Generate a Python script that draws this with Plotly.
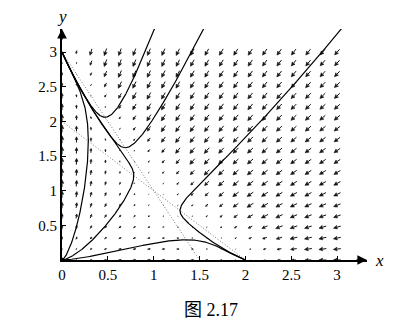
import numpy as np
import plotly.graph_objects as go

# ---- model (competition system read from the nullclines in the picture) ----
# x' = x (GROWTH[0] - COMP_X[0] x - COMP_X[1] y)
# y' = y (GROWTH[1] - COMP_Y[0] x - COMP_Y[1] y)
GROWTH = [2.0, 3.0]
COMP_X = [1.0, 1.0]
COMP_Y = [2.0, 1.0]

# direction-field grid
GRID_N = 20
GRID_MAX = 3.0

# points read on each drawn trajectory (turning points)
TRAJ_X = [0.287, 0.778, 1.41, 1.287, 0.469, 0.687]
TRAJ_Y = [1.72, 1.274, 0.29, 0.722, 2.06, 1.62]

X_TICKS = [0, 0.5, 1, 1.5, 2, 2.5, 3]
X_TICK_LABELS = ["0", "0.5", "1", "1.5", "2", "2.5", "3"]
Y_TICKS = [0.5, 1, 1.5, 2, 2.5, 3]
Y_TICK_LABELS = ["0.5", "1", "1.5", "2", "2.5", "3"]
CAPTION = "图 2.17"

# ---- geometry ----
W, H = 416, 331
ML, MR, MT, MB = 62, 49, 29, 71
XR = [0.0, 3.326]
YR = [0.0, 3.333]
SX = (W - ML - MR) / (XR[1] - XR[0])
SY = (H - MT - MB) / (YR[1] - YR[0])


def field(p):
    x, y = p
    return np.array([x * (GROWTH[0] - COMP_X[0] * x - COMP_X[1] * y),
                     y * (GROWTH[1] - COMP_Y[0] * x - COMP_Y[1] * y)])


# ---- direction field arrows ----
LMAX, KLEN = 7.5, 3.5
g = np.linspace(0, GRID_MAX, GRID_N)
sx_, sy_, hx_, hy_ = [], [], [], []
speeds = []
for xv in g:
    for yv in g:
        u, v = field((xv, yv))
        m = np.hypot(u, v)
        speeds.append((m, xv, yv))
        if m < 1e-9:
            continue
        pu, pv = u * SX, v * SY
        pn = np.hypot(pu, pv)
        du, dv = pu / pn, pv / pn
        L = min(LMAX, KLEN * m)
        h = 0.5 * L
        hw = 0.48 * h
        cx, cy = xv * SX, yv * SY
        tx, ty = cx - du * L / 2, cy - dv * L / 2
        ex, ey = cx + du * L / 2, cy + dv * L / 2
        bx, by = ex - du * h * 0.8, ey - dv * h * 0.8
        sx_ += [tx / SX, bx / SX, None]
        sy_ += [ty / SY, by / SY, None]
        b2x, b2y = ex - du * h, ey - dv * h
        hx_ += [ex / SX, (b2x - dv * hw) / SX, (bx) / SX, (b2x + dv * hw) / SX, ex / SX, None]
        hy_ += [ey / SY, (b2y + du * hw) / SY, (by) / SY, (b2y - du * hw) / SY, ey / SY, None]

fig = go.Figure()
fig.add_trace(go.Scatter(x=sx_, y=sy_, mode="lines",
                         line=dict(color="#111", width=1), hoverinfo="skip"))
fig.add_trace(go.Scatter(x=hx_, y=hy_, mode="lines", fill="toself",
                         fillcolor="#111", line=dict(color="#111", width=0.6),
                         hoverinfo="skip"))

# blob at the slowest grid point (near the saddle)
mmin = min(speeds)
fig.add_trace(go.Scatter(x=[mmin[1]], y=[mmin[2]], mode="markers",
                         marker=dict(symbol="diamond-tall", size=7, angle=-35,
                                     color="#111"), hoverinfo="skip"))

# ---- nullclines (dotted) ----
for a, b, c in [(GROWTH[0], COMP_X[0], COMP_X[1]), (GROWTH[1], COMP_Y[0], COMP_Y[1])]:
    fig.add_trace(go.Scatter(x=[0, a / b], y=[a / c, 0], mode="lines",
                             line=dict(color="#777", width=1, dash="1px,2px"),
                             hoverinfo="skip"))


# ---- trajectories ----
def integrate(p0, sign):
    p = np.array(p0, float)
    pts = [p.copy()]
    ds, dtmax = 0.004, 0.01
    for _ in range(40000):
        sp = np.hypot(*field(p))
        if sp < 1e-7:
            break
        hstep = sign * min(dtmax, ds / sp)
        k1 = field(p)
        k2 = field(p + hstep / 2 * k1)
        k3 = field(p + hstep / 2 * k2)
        k4 = field(p + hstep * k3)
        p = p + hstep / 6 * (k1 + 2 * k2 + 2 * k3 + k4)
        pts.append(p.copy())
        if p[0] > XR[1] + 0.1 or p[1] > YR[1] + 0.1:
            break
        if np.hypot(*p) < 1e-3:
            pts.append(np.array([0.0, 0.0]))
            break
    return np.array(pts)


for x0, y0 in zip(TRAJ_X, TRAJ_Y):
    back = integrate((x0, y0), -1)[::-1]
    fwd = integrate((x0, y0), 1)
    pts = np.vstack([back, fwd[1:]])
    fig.add_trace(go.Scatter(x=pts[:, 0], y=pts[:, 1], mode="lines",
                             line=dict(color="black", width=1.2), hoverinfo="skip"))

FONT = "Liberation Serif"
axis_common = dict(showgrid=False, zeroline=False, showline=True, linecolor="black",
                   linewidth=1.8, ticks="inside", ticklen=4, tickwidth=1.2,
                   tickcolor="black", tickfont=dict(family=FONT, size=15, color="black"))
fig.update_layout(
    width=W, height=H, margin=dict(l=ML, r=MR, t=MT, b=MB),
    paper_bgcolor="white", plot_bgcolor="white", showlegend=False,
    xaxis=dict(range=XR, tickvals=X_TICKS, ticktext=X_TICK_LABELS, **axis_common),
    yaxis=dict(range=YR, tickvals=Y_TICKS, ticktext=Y_TICK_LABELS, **axis_common),
)
# axis arrowheads and labels
fig.add_annotation(x=XR[1], y=0, ax=-12, ay=0, xref="x", yref="y", text="",
                   showarrow=True, arrowhead=2, arrowsize=1.2, arrowwidth=1.6,
                   arrowcolor="black")
fig.add_annotation(x=0, y=YR[1], ax=0, ay=12, xref="x", yref="y", text="",
                   showarrow=True, arrowhead=2, arrowsize=1.2, arrowwidth=1.6,
                   arrowcolor="black")
fig.add_annotation(x=1.0426, y=-0.004, xref="paper", yref="paper", text="<i>x</i>",
                   showarrow=False, font=dict(family=FONT, size=17, color="black"),
                   xanchor="center", yanchor="middle")
fig.add_annotation(x=0.0, y=1.052, xref="paper", yref="paper", text="<i>y</i>",
                   showarrow=False, font=dict(family=FONT, size=17, color="black"),
                   xanchor="center", yanchor="middle")
fig.add_annotation(x=0.4885, y=-0.215, xref="paper", yref="paper", text=CAPTION,
                   showarrow=False,
                   font=dict(family=FONT + ", Noto Sans CJK SC", size=18, color="black"),
                   xanchor="center", yanchor="middle")

fig.write_html("out.html")
